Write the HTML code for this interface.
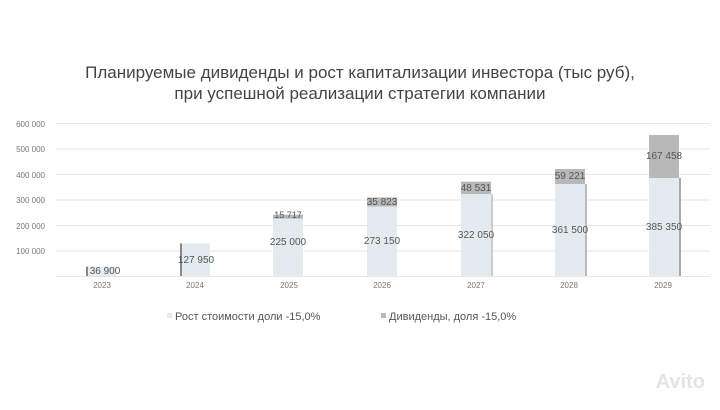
<!DOCTYPE html>
<html><head><meta charset="utf-8"><style>
body{margin:0;width:720px;height:405px;background:#fff;overflow:hidden;font-family:"Liberation Sans",sans-serif}
</style></head><body>
<svg width="720" height="405" xmlns="http://www.w3.org/2000/svg" font-family="Liberation Sans, sans-serif">
<text x="360" y="78" text-anchor="middle" font-size="17" fill="#444">Планируемые дивиденды и рост капитализации инвестора (тыс руб),</text>
<text x="360" y="99" text-anchor="middle" font-size="17" fill="#444">при успешной реализации стратегии компании</text>
<g stroke="#e6e6e6" stroke-width="1">
<line x1="56" x2="710" y1="123.5" y2="123.5"/><line x1="56" x2="710" y1="149" y2="149"/>
<line x1="56" x2="710" y1="174.5" y2="174.5"/><line x1="56" x2="710" y1="200" y2="200"/>
<line x1="56" x2="710" y1="225.5" y2="225.5"/><line x1="56" x2="710" y1="251" y2="251"/>
<line x1="56" x2="710" y1="276.5" y2="276.5"/>
</g>
<g font-size="8" fill="#777" text-anchor="end">
<text x="45" y="127">600 000</text><text x="45" y="152">500 000</text><text x="45" y="178">400 000</text>
<text x="45" y="203">300 000</text><text x="45" y="229">200 000</text><text x="45" y="254">100 000</text>
</g>
<g font-size="8" fill="#777" text-anchor="middle">
<text x="102" y="288">2023</text><text x="195" y="288">2024</text><text x="289" y="288">2025</text>
<text x="382" y="288">2026</text><text x="476" y="288">2027</text><text x="569" y="288">2028</text><text x="663" y="288">2029</text>
</g>
<g>
<rect x="86" y="266.6" width="30" height="9.4" fill="#e3ebf1"/><rect x="86" y="266.6" width="2" height="9.4" fill="#888"/>
<rect x="180" y="243.4" width="30" height="32.6" fill="#e3ebf1"/><rect x="180" y="243.4" width="2" height="32.6" fill="#888"/>
<rect x="273" y="218.7" width="30" height="57.3" fill="#e3ebf1"/><rect x="273" y="214.7" width="30" height="4" fill="#b8b8b8"/>
<rect x="367" y="206.5" width="30" height="69.5" fill="#e3ebf1"/><rect x="367" y="197.4" width="30" height="9.1" fill="#b8b8b8"/>
<rect x="461" y="194" width="30" height="82" fill="#e3ebf1"/><rect x="461" y="181.7" width="30" height="12.3" fill="#b8b8b8"/>
<rect x="555" y="184" width="30" height="92" fill="#e3ebf1"/><rect x="555" y="169" width="30" height="15" fill="#b8b8b8"/>
<rect x="649" y="178" width="30" height="98" fill="#e3ebf1"/><rect x="649" y="135" width="30" height="43" fill="#b8b8b8"/>
<rect x="679" y="178" width="2" height="98" fill="#aaa"/><rect x="585" y="184" width="2" height="92" fill="#bbb"/>
<rect x="491" y="194" width="2" height="82" fill="#ccc"/>
</g>
<g font-size="10" fill="#555" text-anchor="middle">
<text x="105" y="274">36 900</text><text x="196" y="263">127 950</text>
<text x="288" y="245">225 000</text><text x="288" y="218" font-size="9">15 717</text>
<text x="382" y="244">273 150</text><text x="382" y="205">35 823</text>
<text x="476" y="238">322 050</text><text x="476" y="191">48 531</text>
<text x="570" y="233">361 500</text><text x="570" y="179">59 221</text>
<text x="664" y="230">385 350</text><text x="664" y="159">167 458</text>
</g>
<rect x="167" y="313" width="5" height="5" fill="#e3ebf1"/>
<text x="175" y="320" font-size="11" fill="#555">Рост стоимости доли -15,0%</text>
<rect x="381" y="313" width="5" height="5" fill="#b8b8b8"/>
<text x="389" y="320" font-size="11" fill="#555">Дивиденды, доля -15,0%</text>
<text x="705" y="388" text-anchor="end" font-size="20" font-weight="bold" fill="#e4e4e4">Avito</text>
</svg>
</body></html>
